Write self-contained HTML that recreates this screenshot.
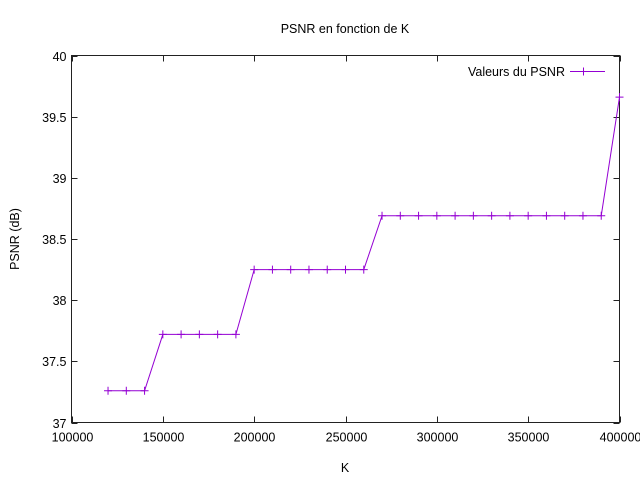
<!DOCTYPE html>
<html><head><meta charset="utf-8"><style>
html,body{margin:0;padding:0;background:#fff;}
svg{display:block;font-family:"Liberation Sans","DejaVu Sans",sans-serif;}
</style></head><body>
<svg id="chart" width="640" height="480" viewBox="0 0 640 480">
<rect width="640" height="480" fill="#fff"/>
<text x="345" y="33" font-size="12.5" text-anchor="middle">PSNR en fonction de K</text>
<text x="345" y="472" font-size="12.5" text-anchor="middle">K</text>
<text transform="translate(19,239) rotate(-90)" font-size="12.5" text-anchor="middle">PSNR (dB)</text>
<g id="axes"></g>
<g id="series"></g>
<g>
<text x="565" y="76" font-size="12.5" text-anchor="end">Valeurs du PSNR</text>
<line x1="570" y1="71.5" x2="605" y2="71.5" stroke="#9400d3" stroke-width="1"/>
<path d="M583.5,67.5v8M579.5,71.5h8" stroke="#9400d3" stroke-width="1"/>
</g>
</svg>
<script>
const kValues=[120000,130000,140000,150000,160000,170000,180000,190000,200000,210000,220000,230000,240000,250000,260000,270000,280000,290000,300000,310000,320000,330000,340000,350000,360000,370000,380000,390000,400000];
const psnrValues=[37.26,37.26,37.26,37.72,37.72,37.72,37.72,37.72,38.25,38.25,38.25,38.25,38.25,38.25,38.25,38.69,38.69,38.69,38.69,38.69,38.69,38.69,38.69,38.69,38.69,38.69,38.69,38.69,39.66];
const xTicks=[100000,150000,200000,250000,300000,350000,400000];
const yTicks=[37,37.5,38,38.5,39,39.5,40];
const yTickLabels=["37","37.5","38","38.5","39","39.5","40"];
const L=71.5,R=619.5,T=55.5,B=422.5;
const xs=v=>L+(v-100000)/300000*(R-L);
const ys=v=>B-(v-37)/3*(B-T);
const NS="http://www.w3.org/2000/svg";
const axes=document.getElementById('axes'),series=document.getElementById('series');
function mk(tag,attrs,parent){const e=document.createElementNS(NS,tag);for(const k in attrs)e.setAttribute(k,attrs[k]);parent.appendChild(e);return e;}
const frame=mk('rect',{x:L,y:T,width:R-L,height:B-T,fill:'none',stroke:'#222','stroke-width':1},axes);


xTicks.forEach(v=>{const x=Math.round(xs(v))+0.5;
const t=mk('path',{d:`M${x},${B}v-6M${x},${T}v6`,stroke:'#222'},axes);


const lb=mk('text',{x:x,y:B+19,'font-size':12.5,'text-anchor':'middle'},axes);lb.textContent=v;

});
yTicks.forEach((v,i)=>{const y=Math.round(ys(v))+0.5;
const t=mk('path',{d:`M${L},${y}h6M${R},${y}h-6`,stroke:'#222'},axes);


const lb=mk('text',{x:L-5,y:y+4.5,'font-size':12.5,'text-anchor':'end'},axes);lb.textContent=yTickLabels[i];

});
const line=mk('polyline',{points:kValues.map((k,i)=>xs(k)+','+ys(psnrValues[i])).join(' '),fill:'none',stroke:'#9400d3','stroke-width':1},series);


kValues.forEach((k,i)=>{const x=xs(k),y=ys(psnrValues[i]);
const m=mk('path',{d:`M${x-4},${y}h8M${x},${y-4}v8`,stroke:'#9400d3','stroke-width':1},series);

});
</script>
</body></html>
